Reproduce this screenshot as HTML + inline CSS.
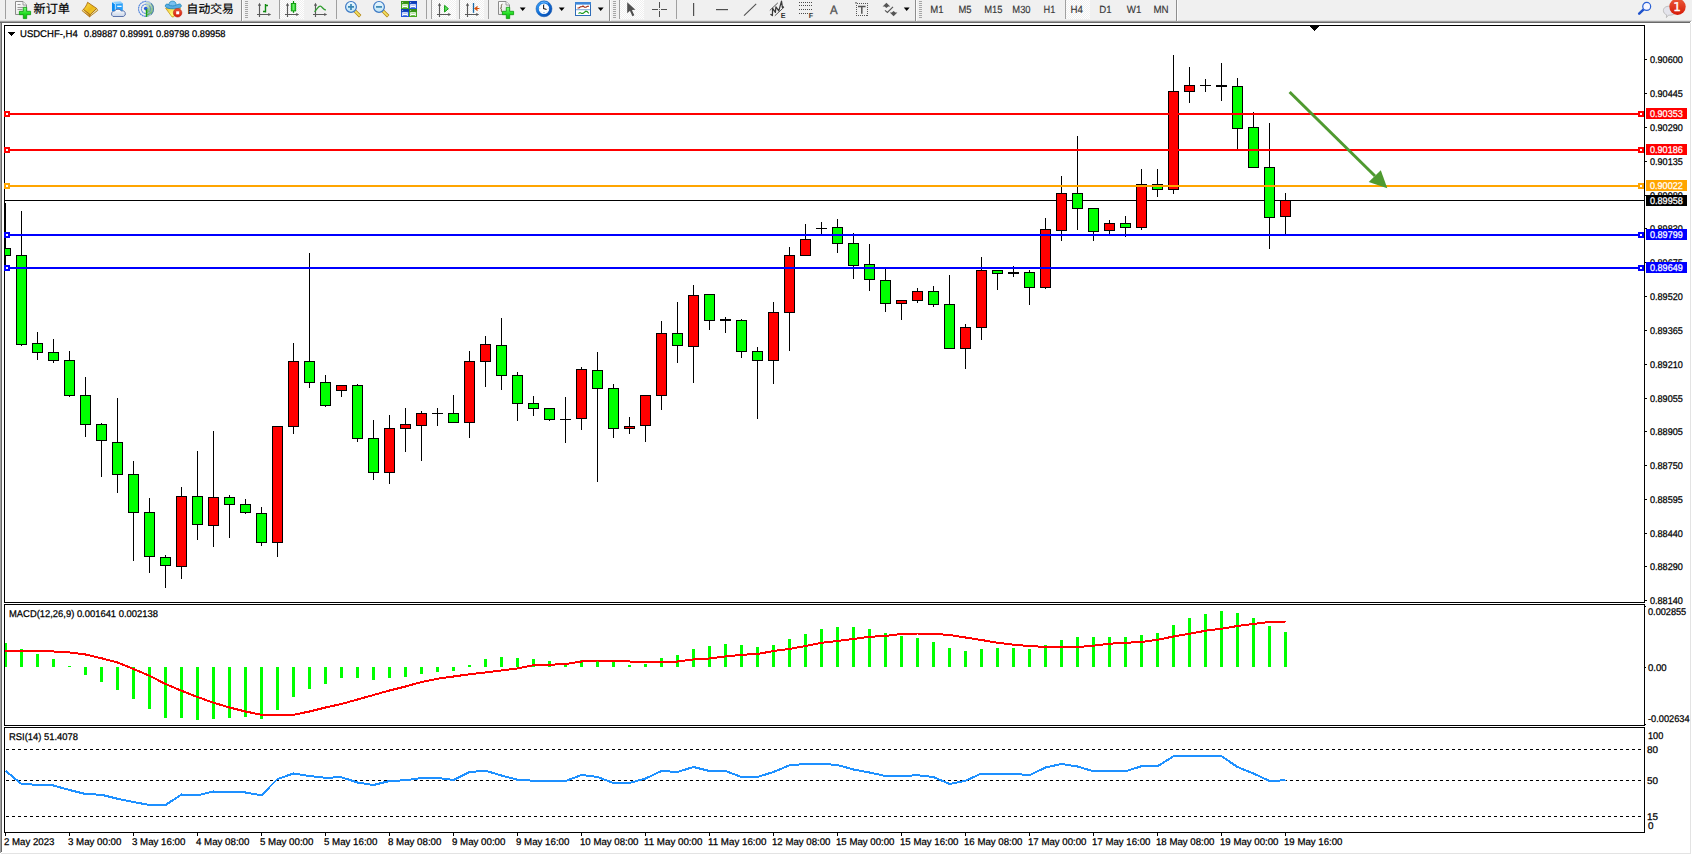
<!DOCTYPE html>
<html><head><meta charset="utf-8"><title>USDCHF-,H4</title>
<style>
html,body{margin:0;padding:0}
body{text-rendering:geometricPrecision;width:1692px;height:855px;position:relative;overflow:hidden;background:#fff;font-family:"Liberation Sans","Noto Sans CJK SC",sans-serif;font-size:9.5px;color:#000}
.t,.box span{-webkit-text-stroke:0.25px currentColor}
.t{position:absolute;white-space:nowrap;line-height:11px;height:11px;transform-origin:0 50%}
.pl{left:1650px}
.box{position:absolute;left:1646px;width:41px;height:11px}
.box span{position:absolute;left:3.9px;top:1px;line-height:11px;color:#fff;white-space:nowrap;transform-origin:0 50%}
#tb{position:absolute;left:0;top:0;width:1692px;height:21px;background:#f0f0f0}
#chart{position:absolute;left:0;top:0}
</style></head><body>
<div id="tb"></div>
<div style="position:absolute;left:0;top:20px;width:1692px;height:1px;background:#dedede"></div>
<div style="position:absolute;left:0;top:21px;width:1691px;height:1px;background:#a0a0a0"></div>
<div style="position:absolute;left:0;top:22px;width:1690px;height:1px;background:#696969"></div>
<div style="position:absolute;left:0;top:23px;width:1px;height:830px;background:#a0a0a0"></div>
<div style="position:absolute;left:1px;top:23px;width:1px;height:829px;background:#696969"></div>
<div style="position:absolute;left:1690px;top:23px;width:1px;height:831px;background:#e3e3e3"></div>
<div style="position:absolute;left:1px;top:853px;width:1690px;height:1px;background:#e3e3e3"></div>

<svg id="chart" width="1692" height="855" viewBox="0 0 1692 855" shape-rendering="crispEdges"><rect x="4" y="25" width="1641" height="1" fill="#000"/><rect x="4" y="25" width="1" height="578" fill="#000"/><rect x="4" y="602" width="1641" height="1" fill="#000"/><rect x="1644" y="25" width="1" height="578" fill="#000"/><rect x="4" y="604" width="1641" height="1" fill="#000"/><rect x="4" y="604" width="1" height="122" fill="#000"/><rect x="4" y="725" width="1641" height="1" fill="#000"/><rect x="1644" y="604" width="1" height="122" fill="#000"/><rect x="4" y="727" width="1641" height="1" fill="#000"/><rect x="4" y="727" width="1" height="106" fill="#000"/><rect x="4" y="832" width="1641" height="1" fill="#000"/><rect x="1644" y="727" width="1" height="106" fill="#000"/><rect x="5" y="200" width="1640" height="1" fill="#000"/><rect x="5" y="203" width="1" height="65" fill="#000"/><rect x="5" y="248" width="6" height="8" fill="#000"/><rect x="5" y="249" width="5" height="6" fill="#00ff00"/><rect x="21" y="211" width="1" height="135" fill="#000"/><rect x="16" y="255" width="11" height="90" fill="#000"/><rect x="17" y="256" width="9" height="88" fill="#00ff00"/><rect x="37" y="332" width="1" height="28" fill="#000"/><rect x="32" y="343" width="11" height="10" fill="#000"/><rect x="33" y="344" width="9" height="8" fill="#00ff00"/><rect x="53" y="339" width="1" height="24" fill="#000"/><rect x="48" y="352" width="11" height="9" fill="#000"/><rect x="49" y="353" width="9" height="7" fill="#00ff00"/><rect x="69" y="351" width="1" height="46" fill="#000"/><rect x="64" y="360" width="11" height="36" fill="#000"/><rect x="65" y="361" width="9" height="34" fill="#00ff00"/><rect x="85" y="377" width="1" height="60" fill="#000"/><rect x="80" y="395" width="11" height="30" fill="#000"/><rect x="81" y="396" width="9" height="28" fill="#00ff00"/><rect x="101" y="423" width="1" height="54" fill="#000"/><rect x="96" y="424" width="11" height="17" fill="#000"/><rect x="97" y="425" width="9" height="15" fill="#00ff00"/><rect x="117" y="398" width="1" height="95" fill="#000"/><rect x="112" y="442" width="11" height="33" fill="#000"/><rect x="113" y="443" width="9" height="31" fill="#00ff00"/><rect x="133" y="461" width="1" height="100" fill="#000"/><rect x="128" y="474" width="11" height="39" fill="#000"/><rect x="129" y="475" width="9" height="37" fill="#00ff00"/><rect x="149" y="498" width="1" height="75" fill="#000"/><rect x="144" y="512" width="11" height="45" fill="#000"/><rect x="145" y="513" width="9" height="43" fill="#00ff00"/><rect x="165" y="555" width="1" height="33" fill="#000"/><rect x="160" y="557" width="11" height="9" fill="#000"/><rect x="161" y="558" width="9" height="7" fill="#00ff00"/><rect x="181" y="487" width="1" height="92" fill="#000"/><rect x="176" y="496" width="11" height="71" fill="#000"/><rect x="177" y="497" width="9" height="69" fill="#ff0000"/><rect x="197" y="451" width="1" height="89" fill="#000"/><rect x="192" y="496" width="11" height="29" fill="#000"/><rect x="193" y="497" width="9" height="27" fill="#00ff00"/><rect x="213" y="431" width="1" height="116" fill="#000"/><rect x="208" y="497" width="11" height="29" fill="#000"/><rect x="209" y="498" width="9" height="27" fill="#ff0000"/><rect x="229" y="495" width="1" height="43" fill="#000"/><rect x="224" y="497" width="11" height="8" fill="#000"/><rect x="225" y="498" width="9" height="6" fill="#00ff00"/><rect x="245" y="499" width="1" height="15" fill="#000"/><rect x="240" y="504" width="11" height="9" fill="#000"/><rect x="241" y="505" width="9" height="7" fill="#00ff00"/><rect x="261" y="507" width="1" height="39" fill="#000"/><rect x="256" y="513" width="11" height="30" fill="#000"/><rect x="257" y="514" width="9" height="28" fill="#00ff00"/><rect x="277" y="426" width="1" height="131" fill="#000"/><rect x="272" y="426" width="11" height="117" fill="#000"/><rect x="273" y="427" width="9" height="115" fill="#ff0000"/><rect x="293" y="343" width="1" height="91" fill="#000"/><rect x="288" y="361" width="11" height="66" fill="#000"/><rect x="289" y="362" width="9" height="64" fill="#ff0000"/><rect x="309" y="253" width="1" height="135" fill="#000"/><rect x="304" y="361" width="11" height="22" fill="#000"/><rect x="305" y="362" width="9" height="20" fill="#00ff00"/><rect x="325" y="375" width="1" height="32" fill="#000"/><rect x="320" y="382" width="11" height="24" fill="#000"/><rect x="321" y="383" width="9" height="22" fill="#00ff00"/><rect x="341" y="385" width="1" height="12" fill="#000"/><rect x="336" y="385" width="11" height="6" fill="#000"/><rect x="337" y="386" width="9" height="4" fill="#ff0000"/><rect x="357" y="384" width="1" height="58" fill="#000"/><rect x="352" y="385" width="11" height="54" fill="#000"/><rect x="353" y="386" width="9" height="52" fill="#00ff00"/><rect x="373" y="420" width="1" height="60" fill="#000"/><rect x="368" y="438" width="11" height="35" fill="#000"/><rect x="369" y="439" width="9" height="33" fill="#00ff00"/><rect x="389" y="415" width="1" height="69" fill="#000"/><rect x="384" y="428" width="11" height="45" fill="#000"/><rect x="385" y="429" width="9" height="43" fill="#ff0000"/><rect x="405" y="408" width="1" height="44" fill="#000"/><rect x="400" y="424" width="11" height="5" fill="#000"/><rect x="401" y="425" width="9" height="3" fill="#ff0000"/><rect x="421" y="411" width="1" height="50" fill="#000"/><rect x="416" y="413" width="11" height="13" fill="#000"/><rect x="417" y="414" width="9" height="11" fill="#ff0000"/><rect x="437" y="408" width="1" height="18" fill="#000"/><rect x="432" y="413" width="11" height="1" fill="#000"/><rect x="453" y="395" width="1" height="28" fill="#000"/><rect x="448" y="413" width="11" height="10" fill="#000"/><rect x="449" y="414" width="9" height="8" fill="#00ff00"/><rect x="469" y="351" width="1" height="87" fill="#000"/><rect x="464" y="361" width="11" height="62" fill="#000"/><rect x="465" y="362" width="9" height="60" fill="#ff0000"/><rect x="485" y="336" width="1" height="51" fill="#000"/><rect x="480" y="344" width="11" height="18" fill="#000"/><rect x="481" y="345" width="9" height="16" fill="#ff0000"/><rect x="501" y="318" width="1" height="72" fill="#000"/><rect x="496" y="345" width="11" height="31" fill="#000"/><rect x="497" y="346" width="9" height="29" fill="#00ff00"/><rect x="517" y="372" width="1" height="49" fill="#000"/><rect x="512" y="375" width="11" height="29" fill="#000"/><rect x="513" y="376" width="9" height="27" fill="#00ff00"/><rect x="533" y="396" width="1" height="20" fill="#000"/><rect x="528" y="403" width="11" height="6" fill="#000"/><rect x="529" y="404" width="9" height="4" fill="#00ff00"/><rect x="549" y="408" width="1" height="13" fill="#000"/><rect x="544" y="408" width="11" height="12" fill="#000"/><rect x="545" y="409" width="9" height="10" fill="#00ff00"/><rect x="565" y="397" width="1" height="46" fill="#000"/><rect x="560" y="419" width="11" height="1" fill="#000"/><rect x="581" y="367" width="1" height="63" fill="#000"/><rect x="576" y="369" width="11" height="50" fill="#000"/><rect x="577" y="370" width="9" height="48" fill="#ff0000"/><rect x="597" y="352" width="1" height="130" fill="#000"/><rect x="592" y="370" width="11" height="19" fill="#000"/><rect x="593" y="371" width="9" height="17" fill="#00ff00"/><rect x="613" y="384" width="1" height="54" fill="#000"/><rect x="608" y="388" width="11" height="41" fill="#000"/><rect x="609" y="389" width="9" height="39" fill="#00ff00"/><rect x="629" y="417" width="1" height="17" fill="#000"/><rect x="624" y="426" width="11" height="3" fill="#000"/><rect x="625" y="427" width="9" height="1" fill="#ff0000"/><rect x="645" y="395" width="1" height="47" fill="#000"/><rect x="640" y="395" width="11" height="31" fill="#000"/><rect x="641" y="396" width="9" height="29" fill="#ff0000"/><rect x="661" y="321" width="1" height="89" fill="#000"/><rect x="656" y="333" width="11" height="63" fill="#000"/><rect x="657" y="334" width="9" height="61" fill="#ff0000"/><rect x="677" y="302" width="1" height="61" fill="#000"/><rect x="672" y="333" width="11" height="13" fill="#000"/><rect x="673" y="334" width="9" height="11" fill="#00ff00"/><rect x="693" y="285" width="1" height="98" fill="#000"/><rect x="688" y="295" width="11" height="52" fill="#000"/><rect x="689" y="296" width="9" height="50" fill="#ff0000"/><rect x="709" y="294" width="1" height="36" fill="#000"/><rect x="704" y="294" width="11" height="27" fill="#000"/><rect x="705" y="295" width="9" height="25" fill="#00ff00"/><rect x="725" y="317" width="1" height="16" fill="#000"/><rect x="720" y="319" width="11" height="2" fill="#000"/><rect x="741" y="319" width="1" height="39" fill="#000"/><rect x="736" y="320" width="11" height="32" fill="#000"/><rect x="737" y="321" width="9" height="30" fill="#00ff00"/><rect x="757" y="347" width="1" height="72" fill="#000"/><rect x="752" y="351" width="11" height="10" fill="#000"/><rect x="753" y="352" width="9" height="8" fill="#00ff00"/><rect x="773" y="302" width="1" height="82" fill="#000"/><rect x="768" y="312" width="11" height="49" fill="#000"/><rect x="769" y="313" width="9" height="47" fill="#ff0000"/><rect x="789" y="247" width="1" height="104" fill="#000"/><rect x="784" y="255" width="11" height="58" fill="#000"/><rect x="785" y="256" width="9" height="56" fill="#ff0000"/><rect x="805" y="224" width="1" height="32" fill="#000"/><rect x="800" y="239" width="11" height="17" fill="#000"/><rect x="801" y="240" width="9" height="15" fill="#ff0000"/><rect x="821" y="222" width="1" height="12" fill="#000"/><rect x="816" y="228" width="11" height="1" fill="#000"/><rect x="837" y="219" width="1" height="34" fill="#000"/><rect x="832" y="227" width="11" height="17" fill="#000"/><rect x="833" y="228" width="9" height="15" fill="#00ff00"/><rect x="853" y="233" width="1" height="46" fill="#000"/><rect x="848" y="243" width="11" height="23" fill="#000"/><rect x="849" y="244" width="9" height="21" fill="#00ff00"/><rect x="869" y="244" width="1" height="47" fill="#000"/><rect x="864" y="264" width="11" height="16" fill="#000"/><rect x="865" y="265" width="9" height="14" fill="#00ff00"/><rect x="885" y="269" width="1" height="43" fill="#000"/><rect x="880" y="280" width="11" height="24" fill="#000"/><rect x="881" y="281" width="9" height="22" fill="#00ff00"/><rect x="901" y="300" width="1" height="20" fill="#000"/><rect x="896" y="300" width="11" height="4" fill="#000"/><rect x="897" y="301" width="9" height="2" fill="#ff0000"/><rect x="917" y="288" width="1" height="15" fill="#000"/><rect x="912" y="291" width="11" height="10" fill="#000"/><rect x="913" y="292" width="9" height="8" fill="#ff0000"/><rect x="933" y="286" width="1" height="21" fill="#000"/><rect x="928" y="291" width="11" height="14" fill="#000"/><rect x="929" y="292" width="9" height="12" fill="#00ff00"/><rect x="949" y="275" width="1" height="74" fill="#000"/><rect x="944" y="304" width="11" height="45" fill="#000"/><rect x="945" y="305" width="9" height="43" fill="#00ff00"/><rect x="965" y="324" width="1" height="45" fill="#000"/><rect x="960" y="327" width="11" height="22" fill="#000"/><rect x="961" y="328" width="9" height="20" fill="#ff0000"/><rect x="981" y="257" width="1" height="83" fill="#000"/><rect x="976" y="270" width="11" height="58" fill="#000"/><rect x="977" y="271" width="9" height="56" fill="#ff0000"/><rect x="997" y="270" width="1" height="20" fill="#000"/><rect x="992" y="270" width="11" height="4" fill="#000"/><rect x="993" y="271" width="9" height="2" fill="#00ff00"/><rect x="1013" y="266" width="1" height="11" fill="#000"/><rect x="1008" y="272" width="11" height="2" fill="#000"/><rect x="1029" y="270" width="1" height="35" fill="#000"/><rect x="1024" y="272" width="11" height="16" fill="#000"/><rect x="1025" y="273" width="9" height="14" fill="#00ff00"/><rect x="1045" y="218" width="1" height="71" fill="#000"/><rect x="1040" y="229" width="11" height="59" fill="#000"/><rect x="1041" y="230" width="9" height="57" fill="#ff0000"/><rect x="1061" y="176" width="1" height="65" fill="#000"/><rect x="1056" y="193" width="11" height="38" fill="#000"/><rect x="1057" y="194" width="9" height="36" fill="#ff0000"/><rect x="1077" y="136" width="1" height="94" fill="#000"/><rect x="1072" y="193" width="11" height="16" fill="#000"/><rect x="1073" y="194" width="9" height="14" fill="#00ff00"/><rect x="1093" y="208" width="1" height="33" fill="#000"/><rect x="1088" y="208" width="11" height="24" fill="#000"/><rect x="1089" y="209" width="9" height="22" fill="#00ff00"/><rect x="1109" y="220" width="1" height="14" fill="#000"/><rect x="1104" y="223" width="11" height="8" fill="#000"/><rect x="1105" y="224" width="9" height="6" fill="#ff0000"/><rect x="1125" y="216" width="1" height="21" fill="#000"/><rect x="1120" y="223" width="11" height="5" fill="#000"/><rect x="1121" y="224" width="9" height="3" fill="#00ff00"/><rect x="1141" y="169" width="1" height="61" fill="#000"/><rect x="1136" y="184" width="11" height="44" fill="#000"/><rect x="1137" y="185" width="9" height="42" fill="#ff0000"/><rect x="1157" y="169" width="1" height="28" fill="#000"/><rect x="1152" y="184" width="11" height="6" fill="#000"/><rect x="1153" y="185" width="9" height="4" fill="#00ff00"/><rect x="1173" y="55" width="1" height="139" fill="#000"/><rect x="1168" y="91" width="11" height="99" fill="#000"/><rect x="1169" y="92" width="9" height="97" fill="#ff0000"/><rect x="1189" y="67" width="1" height="36" fill="#000"/><rect x="1184" y="85" width="11" height="7" fill="#000"/><rect x="1185" y="86" width="9" height="5" fill="#ff0000"/><rect x="1205" y="79" width="1" height="13" fill="#000"/><rect x="1200" y="85" width="11" height="1" fill="#000"/><rect x="1221" y="63" width="1" height="38" fill="#000"/><rect x="1216" y="85" width="11" height="2" fill="#000"/><rect x="1237" y="78" width="1" height="71" fill="#000"/><rect x="1232" y="86" width="11" height="43" fill="#000"/><rect x="1233" y="87" width="9" height="41" fill="#00ff00"/><rect x="1253" y="112" width="1" height="56" fill="#000"/><rect x="1248" y="127" width="11" height="41" fill="#000"/><rect x="1249" y="128" width="9" height="39" fill="#00ff00"/><rect x="1269" y="123" width="1" height="126" fill="#000"/><rect x="1264" y="167" width="11" height="51" fill="#000"/><rect x="1265" y="168" width="9" height="49" fill="#00ff00"/><rect x="1285" y="193" width="1" height="41" fill="#000"/><rect x="1280" y="200" width="11" height="17" fill="#000"/><rect x="1281" y="201" width="9" height="15" fill="#ff0000"/><rect x="5" y="113" width="1639" height="2" fill="#ff0000"/><rect x="4" y="111" width="6" height="6" fill="#ff0000"/><rect x="6" y="113" width="2" height="2" fill="#fff"/><rect x="1638" y="111" width="6" height="6" fill="#ff0000"/><rect x="1640" y="113" width="2" height="2" fill="#fff"/><rect x="5" y="149" width="1639" height="2" fill="#ff0000"/><rect x="4" y="147" width="6" height="6" fill="#ff0000"/><rect x="6" y="149" width="2" height="2" fill="#fff"/><rect x="1638" y="147" width="6" height="6" fill="#ff0000"/><rect x="1640" y="149" width="2" height="2" fill="#fff"/><rect x="5" y="185" width="1639" height="2" fill="#ffa500"/><rect x="4" y="183" width="6" height="6" fill="#ffa500"/><rect x="6" y="185" width="2" height="2" fill="#fff"/><rect x="1638" y="183" width="6" height="6" fill="#ffa500"/><rect x="1640" y="185" width="2" height="2" fill="#fff"/><rect x="5" y="234" width="1639" height="2" fill="#0000ff"/><rect x="4" y="232" width="6" height="6" fill="#0000ff"/><rect x="6" y="234" width="2" height="2" fill="#fff"/><rect x="1638" y="232" width="6" height="6" fill="#0000ff"/><rect x="1640" y="234" width="2" height="2" fill="#fff"/><rect x="5" y="267" width="1639" height="2" fill="#0000ff"/><rect x="4" y="265" width="6" height="6" fill="#0000ff"/><rect x="6" y="267" width="2" height="2" fill="#fff"/><rect x="1638" y="265" width="6" height="6" fill="#0000ff"/><rect x="1640" y="267" width="2" height="2" fill="#fff"/><g shape-rendering="geometricPrecision"><line x1="1289.6" y1="92" x2="1375" y2="176" stroke="#4f9a30" stroke-width="3"/><polygon points="1387.3,188.2 1380.8,170.3 1368.7,181.9" fill="#4f9a30"/></g><rect x="8" y="32" width="7" height="1" fill="#000"/><rect x="9" y="33" width="5" height="1" fill="#000"/><rect x="10" y="34" width="3" height="1" fill="#000"/><rect x="11" y="35" width="1" height="1" fill="#000"/><rect x="1310" y="26" width="9" height="1" fill="#000"/><rect x="1311" y="27" width="7" height="1" fill="#000"/><rect x="1312" y="28" width="5" height="1" fill="#000"/><rect x="1313" y="29" width="3" height="1" fill="#000"/><rect x="1314" y="30" width="1" height="1" fill="#000"/><rect x="5" y="643" width="2" height="24" fill="#00ff00"/><rect x="20" y="649" width="3" height="18" fill="#00ff00"/><rect x="36" y="654" width="3" height="13" fill="#00ff00"/><rect x="52" y="659" width="3" height="8" fill="#00ff00"/><rect x="68" y="666" width="3" height="1" fill="#00ff00"/><rect x="84" y="667" width="3" height="8" fill="#00ff00"/><rect x="100" y="667" width="3" height="15" fill="#00ff00"/><rect x="116" y="667" width="3" height="23" fill="#00ff00"/><rect x="132" y="667" width="3" height="32" fill="#00ff00"/><rect x="148" y="667" width="3" height="42" fill="#00ff00"/><rect x="164" y="667" width="3" height="51" fill="#00ff00"/><rect x="180" y="667" width="3" height="51" fill="#00ff00"/><rect x="196" y="667" width="3" height="53" fill="#00ff00"/><rect x="212" y="667" width="3" height="52" fill="#00ff00"/><rect x="228" y="667" width="3" height="51" fill="#00ff00"/><rect x="244" y="667" width="3" height="50" fill="#00ff00"/><rect x="260" y="667" width="3" height="52" fill="#00ff00"/><rect x="276" y="667" width="3" height="43" fill="#00ff00"/><rect x="292" y="667" width="3" height="30" fill="#00ff00"/><rect x="308" y="667" width="3" height="22" fill="#00ff00"/><rect x="324" y="667" width="3" height="17" fill="#00ff00"/><rect x="340" y="667" width="3" height="11" fill="#00ff00"/><rect x="356" y="667" width="3" height="11" fill="#00ff00"/><rect x="372" y="667" width="3" height="13" fill="#00ff00"/><rect x="388" y="667" width="3" height="11" fill="#00ff00"/><rect x="404" y="667" width="3" height="10" fill="#00ff00"/><rect x="420" y="667" width="3" height="7" fill="#00ff00"/><rect x="436" y="667" width="3" height="5" fill="#00ff00"/><rect x="452" y="667" width="3" height="4" fill="#00ff00"/><rect x="468" y="665" width="3" height="2" fill="#00ff00"/><rect x="484" y="659" width="3" height="8" fill="#00ff00"/><rect x="500" y="657" width="3" height="10" fill="#00ff00"/><rect x="516" y="658" width="3" height="9" fill="#00ff00"/><rect x="532" y="659" width="3" height="8" fill="#00ff00"/><rect x="548" y="661" width="3" height="6" fill="#00ff00"/><rect x="564" y="663" width="3" height="4" fill="#00ff00"/><rect x="580" y="660" width="3" height="7" fill="#00ff00"/><rect x="596" y="660" width="3" height="7" fill="#00ff00"/><rect x="612" y="662" width="3" height="5" fill="#00ff00"/><rect x="628" y="665" width="3" height="2" fill="#00ff00"/><rect x="644" y="664" width="3" height="3" fill="#00ff00"/><rect x="660" y="658" width="3" height="9" fill="#00ff00"/><rect x="676" y="655" width="3" height="12" fill="#00ff00"/><rect x="692" y="649" width="3" height="18" fill="#00ff00"/><rect x="708" y="646" width="3" height="21" fill="#00ff00"/><rect x="724" y="644" width="3" height="23" fill="#00ff00"/><rect x="740" y="645" width="3" height="22" fill="#00ff00"/><rect x="756" y="647" width="3" height="20" fill="#00ff00"/><rect x="772" y="645" width="3" height="22" fill="#00ff00"/><rect x="788" y="639" width="3" height="28" fill="#00ff00"/><rect x="804" y="634" width="3" height="33" fill="#00ff00"/><rect x="820" y="629" width="3" height="38" fill="#00ff00"/><rect x="836" y="627" width="3" height="40" fill="#00ff00"/><rect x="852" y="627" width="3" height="40" fill="#00ff00"/><rect x="868" y="629" width="3" height="38" fill="#00ff00"/><rect x="884" y="633" width="3" height="34" fill="#00ff00"/><rect x="900" y="636" width="3" height="31" fill="#00ff00"/><rect x="916" y="638" width="3" height="29" fill="#00ff00"/><rect x="932" y="642" width="3" height="25" fill="#00ff00"/><rect x="948" y="648" width="3" height="19" fill="#00ff00"/><rect x="964" y="651" width="3" height="16" fill="#00ff00"/><rect x="980" y="649" width="3" height="18" fill="#00ff00"/><rect x="996" y="648" width="3" height="19" fill="#00ff00"/><rect x="1012" y="648" width="3" height="19" fill="#00ff00"/><rect x="1028" y="649" width="3" height="18" fill="#00ff00"/><rect x="1044" y="645" width="3" height="22" fill="#00ff00"/><rect x="1060" y="640" width="3" height="27" fill="#00ff00"/><rect x="1076" y="637" width="3" height="30" fill="#00ff00"/><rect x="1092" y="637" width="3" height="30" fill="#00ff00"/><rect x="1108" y="637" width="3" height="30" fill="#00ff00"/><rect x="1124" y="637" width="3" height="30" fill="#00ff00"/><rect x="1140" y="635" width="3" height="32" fill="#00ff00"/><rect x="1156" y="633" width="3" height="34" fill="#00ff00"/><rect x="1172" y="625" width="3" height="42" fill="#00ff00"/><rect x="1188" y="618" width="3" height="49" fill="#00ff00"/><rect x="1204" y="614" width="3" height="53" fill="#00ff00"/><rect x="1220" y="611" width="3" height="56" fill="#00ff00"/><rect x="1236" y="613" width="3" height="54" fill="#00ff00"/><rect x="1252" y="618" width="3" height="49" fill="#00ff00"/><rect x="1268" y="626" width="3" height="41" fill="#00ff00"/><rect x="1284" y="632" width="3" height="35" fill="#00ff00"/><polyline points="5.5,651.25 21.5,650.75 37.5,651.0 53.5,651.5 69.5,652.5 85.5,654.5 101.5,658.25 117.5,662.5 133.5,669.0 149.5,675.75 165.5,684.0 181.5,690.75 197.5,697.0 213.5,702.75 229.5,707.5 245.5,711.5 261.5,714.75 277.5,715.0 293.5,714.75 309.5,711.5 325.5,707.5 341.5,704.0 357.5,699.5 373.5,695.0 389.5,690.5 405.5,686.5 421.5,682.0 437.5,678.75 453.5,676.5 469.5,674.25 485.5,672.5 501.5,670.5 517.5,668.5 533.5,665.25 549.5,664.75 565.5,664.0 581.5,661.5 597.5,660.5 613.5,660.75 629.5,661.5 645.5,661.5 661.5,661.5 677.5,661.5 693.5,659.5 709.5,658.5 725.5,656.5 741.5,654.75 757.5,654.0 773.5,651.0 789.5,649.0 805.5,646.0 821.5,642.75 837.5,641.0 853.5,639.0 869.5,636.75 885.5,636.0 901.5,634.0 917.5,633.5 933.5,633.75 949.5,635.0 965.5,637.5 981.5,640.0 997.5,642.75 1013.5,644.75 1029.5,646.0 1045.5,647.0 1061.5,647.5 1077.5,647.0 1093.5,645.75 1109.5,643.75 1125.5,642.75 1141.5,642.0 1157.5,639.75 1173.5,636.5 1189.5,633.75 1205.5,630.75 1221.5,628.75 1237.5,626.0 1253.5,624.0 1269.5,622.0 1285.5,621.5" fill="none" stroke="#ff0000" stroke-width="2" shape-rendering="crispEdges" stroke-linejoin="round"/><line x1="6" y1="749.5" x2="1644" y2="749.5" stroke="#000" stroke-width="1" stroke-dasharray="3 3"/><line x1="6" y1="780.5" x2="1644" y2="780.5" stroke="#000" stroke-width="1" stroke-dasharray="3 3"/><line x1="6" y1="816.5" x2="1644" y2="816.5" stroke="#000" stroke-width="1" stroke-dasharray="3 3"/><polyline points="5.5,770.75 21.5,784.0 37.5,784.75 53.5,785.5 69.5,790.0 85.5,794.0 101.5,794.75 117.5,798.75 133.5,802.0 149.5,805.0 165.5,805.0 181.5,794.5 197.5,795.25 213.5,791.5 229.5,791.75 245.5,792.5 261.5,795.25 277.5,779.0 293.5,773.5 309.5,776.0 325.5,777.75 341.5,777.25 357.5,782.5 373.5,785.0 389.5,781.0 405.5,780.25 421.5,778.0 437.5,778.0 453.5,780.0 469.5,772.0 485.5,770.75 501.5,775.5 517.5,779.75 533.5,780.75 549.5,781.0 565.5,781.0 581.5,775.0 597.5,777.0 613.5,783.0 629.5,783.0 645.5,778.5 661.5,771.0 677.5,772.0 693.5,767.0 709.5,771.0 725.5,771.0 741.5,777.0 757.5,777.0 773.5,772.0 789.5,765.25 805.5,764.0 821.5,763.75 837.5,765.0 853.5,769.5 869.5,772.5 885.5,776.0 901.5,776.0 917.5,775.25 933.5,777.0 949.5,784.0 965.5,780.75 981.5,773.5 997.5,773.5 1013.5,773.75 1029.5,775.25 1045.5,767.5 1061.5,764.0 1077.5,766.5 1093.5,771.25 1109.5,771.25 1125.5,771.25 1141.5,766.25 1157.5,766.25 1173.5,756.25 1189.5,756.25 1205.5,756.25 1221.5,756.25 1237.5,767.0 1253.5,773.5 1269.5,781.0 1285.5,780.25" fill="none" stroke="#1e90ff" stroke-width="2" shape-rendering="crispEdges" stroke-linejoin="round"/><rect x="1645" y="59" width="2" height="1" fill="#000"/><rect x="1645" y="93" width="2" height="1" fill="#000"/><rect x="1645" y="127" width="2" height="1" fill="#000"/><rect x="1645" y="161" width="2" height="1" fill="#000"/><rect x="1645" y="195" width="2" height="1" fill="#000"/><rect x="1645" y="228" width="2" height="1" fill="#000"/><rect x="1645" y="262" width="2" height="1" fill="#000"/><rect x="1645" y="296" width="2" height="1" fill="#000"/><rect x="1645" y="330" width="2" height="1" fill="#000"/><rect x="1645" y="364" width="2" height="1" fill="#000"/><rect x="1645" y="398" width="2" height="1" fill="#000"/><rect x="1645" y="431" width="2" height="1" fill="#000"/><rect x="1645" y="465" width="2" height="1" fill="#000"/><rect x="1645" y="499" width="2" height="1" fill="#000"/><rect x="1645" y="533" width="2" height="1" fill="#000"/><rect x="1645" y="566" width="2" height="1" fill="#000"/><rect x="1645" y="600" width="2" height="1" fill="#000"/><rect x="1645" y="606" width="1" height="1" fill="#000"/><rect x="1645" y="667" width="1" height="1" fill="#000"/><rect x="1645" y="724" width="1" height="1" fill="#000"/><rect x="5" y="833" width="1" height="3" fill="#000"/><rect x="69" y="833" width="1" height="3" fill="#000"/><rect x="133" y="833" width="1" height="3" fill="#000"/><rect x="197" y="833" width="1" height="3" fill="#000"/><rect x="261" y="833" width="1" height="3" fill="#000"/><rect x="325" y="833" width="1" height="3" fill="#000"/><rect x="389" y="833" width="1" height="3" fill="#000"/><rect x="453" y="833" width="1" height="3" fill="#000"/><rect x="517" y="833" width="1" height="3" fill="#000"/><rect x="581" y="833" width="1" height="3" fill="#000"/><rect x="645" y="833" width="1" height="3" fill="#000"/><rect x="709" y="833" width="1" height="3" fill="#000"/><rect x="773" y="833" width="1" height="3" fill="#000"/><rect x="837" y="833" width="1" height="3" fill="#000"/><rect x="901" y="833" width="1" height="3" fill="#000"/><rect x="965" y="833" width="1" height="3" fill="#000"/><rect x="1029" y="833" width="1" height="3" fill="#000"/><rect x="1093" y="833" width="1" height="3" fill="#000"/><rect x="1157" y="833" width="1" height="3" fill="#000"/><rect x="1221" y="833" width="1" height="3" fill="#000"/><rect x="1285" y="833" width="1" height="3" fill="#000"/></svg>
<div class="t " style="left:20.2px;top:29px;font-size:9.75px;transform:scaleX(0.9773);">USDCHF-,H4</div>
<div class="t " style="left:83.7px;top:29px;font-size:9.75px;transform:scaleX(0.9491);">0.89887 0.89991 0.89798 0.89958</div>
<div class="t " style="left:8.5px;top:609px;font-size:9.75px;transform:scaleX(0.9639);">MACD(12,26,9) 0.001641 0.002138</div>
<div class="t " style="left:8.5px;top:732px;font-size:9.75px;transform:scaleX(0.9631);">RSI(14) 51.4078</div>
<div class="t " style="left:1649.9px;top:55px;font-size:9.75px;transform:scaleX(0.9308);">0.90600</div>
<div class="t " style="left:1649.9px;top:89px;font-size:9.75px;transform:scaleX(0.9308);">0.90445</div>
<div class="t " style="left:1649.9px;top:123px;font-size:9.75px;transform:scaleX(0.9308);">0.90290</div>
<div class="t " style="left:1649.9px;top:157px;font-size:9.75px;transform:scaleX(0.9308);">0.90135</div>
<div class="t " style="left:1649.9px;top:191px;font-size:9.75px;transform:scaleX(0.9308);">0.89980</div>
<div class="t " style="left:1649.9px;top:224px;font-size:9.75px;transform:scaleX(0.9308);">0.89830</div>
<div class="t " style="left:1649.9px;top:258px;font-size:9.75px;transform:scaleX(0.9308);">0.89675</div>
<div class="t " style="left:1649.9px;top:292px;font-size:9.75px;transform:scaleX(0.9308);">0.89520</div>
<div class="t " style="left:1649.9px;top:326px;font-size:9.75px;transform:scaleX(0.9308);">0.89365</div>
<div class="t " style="left:1649.9px;top:360px;font-size:9.75px;transform:scaleX(0.9308);">0.89210</div>
<div class="t " style="left:1649.9px;top:394px;font-size:9.75px;transform:scaleX(0.9308);">0.89055</div>
<div class="t " style="left:1649.9px;top:427px;font-size:9.75px;transform:scaleX(0.9308);">0.88905</div>
<div class="t " style="left:1649.9px;top:461px;font-size:9.75px;transform:scaleX(0.9308);">0.88750</div>
<div class="t " style="left:1649.9px;top:495px;font-size:9.75px;transform:scaleX(0.9308);">0.88595</div>
<div class="t " style="left:1649.9px;top:529px;font-size:9.75px;transform:scaleX(0.9308);">0.88440</div>
<div class="t " style="left:1649.9px;top:562px;font-size:9.75px;transform:scaleX(0.9308);">0.88290</div>
<div class="t " style="left:1649.9px;top:596px;font-size:9.75px;transform:scaleX(0.9308);">0.88140</div>
<div class="t " style="left:1647.7px;top:607px;font-size:9.75px;transform:scaleX(0.9395);">0.002855</div>
<div class="t " style="left:1647.7px;top:663px;font-size:9.75px;transform:scaleX(0.9803);">0.00</div>
<div class="t " style="left:1647.5px;top:714px;font-size:9.75px;transform:scaleX(0.9451);">-0.002634</div>
<div class="t " style="left:1648.0px;top:730.5px;font-size:9.75px;transform:scaleX(0.9345);">100</div>
<div class="t " style="left:1646.9px;top:745px;font-size:9.75px;transform:scaleX(1.0144);">80</div>
<div class="t " style="left:1646.9px;top:776px;font-size:9.75px;transform:scaleX(1.0144);">50</div>
<div class="t " style="left:1646.9px;top:812px;font-size:9.75px;transform:scaleX(1.0144);">15</div>
<div class="t " style="left:1648.0px;top:821px;font-size:9.75px;transform:scaleX(1.0144);">0</div>
<div class="t " style="left:3.9px;top:837px;font-size:9.75px;transform:scaleX(0.9893);">2 May 2023</div>
<div class="t " style="left:67.9px;top:837px;font-size:9.75px;transform:scaleX(0.9953);">3 May 00:00</div>
<div class="t " style="left:131.9px;top:837px;font-size:9.75px;transform:scaleX(0.9953);">3 May 16:00</div>
<div class="t " style="left:195.9px;top:837px;font-size:9.75px;transform:scaleX(0.9953);">4 May 08:00</div>
<div class="t " style="left:259.9px;top:837px;font-size:9.75px;transform:scaleX(0.9953);">5 May 00:00</div>
<div class="t " style="left:323.9px;top:837px;font-size:9.75px;transform:scaleX(0.9953);">5 May 16:00</div>
<div class="t " style="left:387.9px;top:837px;font-size:9.75px;transform:scaleX(0.9953);">8 May 08:00</div>
<div class="t " style="left:451.9px;top:837px;font-size:9.75px;transform:scaleX(0.9953);">9 May 00:00</div>
<div class="t " style="left:515.9px;top:837px;font-size:9.75px;transform:scaleX(0.9953);">9 May 16:00</div>
<div class="t " style="left:579.9px;top:837px;font-size:9.75px;transform:scaleX(0.9886);">10 May 08:00</div>
<div class="t " style="left:643.9px;top:837px;font-size:9.75px;transform:scaleX(1.0008);">11 May 00:00</div>
<div class="t " style="left:707.9px;top:837px;font-size:9.75px;transform:scaleX(1.0008);">11 May 16:00</div>
<div class="t " style="left:771.9px;top:837px;font-size:9.75px;transform:scaleX(0.9886);">12 May 08:00</div>
<div class="t " style="left:835.9px;top:837px;font-size:9.75px;transform:scaleX(0.9886);">15 May 00:00</div>
<div class="t " style="left:899.9px;top:837px;font-size:9.75px;transform:scaleX(0.9886);">15 May 16:00</div>
<div class="t " style="left:963.9px;top:837px;font-size:9.75px;transform:scaleX(0.9886);">16 May 08:00</div>
<div class="t " style="left:1027.9px;top:837px;font-size:9.75px;transform:scaleX(0.9886);">17 May 00:00</div>
<div class="t " style="left:1091.9px;top:837px;font-size:9.75px;transform:scaleX(0.9886);">17 May 16:00</div>
<div class="t " style="left:1155.9px;top:837px;font-size:9.75px;transform:scaleX(0.9886);">18 May 08:00</div>
<div class="t " style="left:1219.9px;top:837px;font-size:9.75px;transform:scaleX(0.9886);">19 May 00:00</div>
<div class="t " style="left:1283.9px;top:837px;font-size:9.75px;transform:scaleX(0.9886);">19 May 16:00</div>
<div class="box" style="top:108px;background:#ff0000"><span style="font-size:9.75px;transform:scaleX(0.9308)">0.90353</span></div>
<div class="box" style="top:144px;background:#ff0000"><span style="font-size:9.75px;transform:scaleX(0.9308)">0.90186</span></div>
<div class="box" style="top:180px;background:#ffa500"><span style="font-size:9.75px;transform:scaleX(0.9308)">0.90022</span></div>
<div class="box" style="top:195px;background:#000"><span style="font-size:9.75px;transform:scaleX(0.9308)">0.89958</span></div>
<div class="box" style="top:229px;background:#0000ff"><span style="font-size:9.75px;transform:scaleX(0.9308)">0.89799</span></div>
<div class="box" style="top:262px;background:#0000ff"><span style="font-size:9.75px;transform:scaleX(0.9308)">0.89649</span></div>
<svg id="tbsvg" width="1692" height="21" viewBox="0 0 1692 21" style="position:absolute;left:0;top:0"><defs><pattern id="chk" width="2" height="2" patternUnits="userSpaceOnUse"><rect width="2" height="2" fill="#fff"/><rect width="1" height="1" fill="#efefef"/><rect x="1" y="1" width="1" height="1" fill="#efefef"/></pattern><linearGradient id="gplus" x1="0" y1="0" x2="0" y2="1"><stop offset="0" stop-color="#7cff7c"/><stop offset=".55" stop-color="#22dd22"/><stop offset="1" stop-color="#0cb40c"/></linearGradient><linearGradient id="gclk" x1="0" y1="0" x2="1" y2="1"><stop offset="0" stop-color="#3aa0f6"/><stop offset=".5" stop-color="#0f6cd4"/><stop offset="1" stop-color="#0a4cae"/></linearGradient><linearGradient id="gdoc" x1="0" y1="0" x2="1" y2="1"><stop offset="0" stop-color="#ffffff"/><stop offset="1" stop-color="#dcdcdc"/></linearGradient><linearGradient id="ggold" x1="0" y1="0" x2="1" y2="1"><stop offset="0" stop-color="#f8dc60"/><stop offset=".6" stop-color="#e0a820"/><stop offset="1" stop-color="#b87c10"/></linearGradient><linearGradient id="gblue" x1="0" y1="0" x2="0" y2="1"><stop offset="0" stop-color="#38a8f8"/><stop offset="1" stop-color="#0868d0"/></linearGradient><linearGradient id="gred" x1="0" y1="0" x2="0" y2="1"><stop offset="0" stop-color="#ea5a3a"/><stop offset="1" stop-color="#d61a08"/></linearGradient><linearGradient id="gcloud" x1="0" y1="0" x2="0" y2="1"><stop offset="0" stop-color="#ffffff"/><stop offset="1" stop-color="#c8d4e8"/></linearGradient><linearGradient id="glens" x1="0" y1="0" x2="0" y2="1"><stop offset="0" stop-color="#eaf8ff"/><stop offset="1" stop-color="#bfe4f4"/></linearGradient><linearGradient id="ggrn" x1="0" y1="0" x2="1" y2="0"><stop offset="0" stop-color="#10c010"/><stop offset=".5" stop-color="#70f070"/><stop offset="1" stop-color="#10c010"/></linearGradient><g id="axes" fill="none" stroke="#5a5a5a" stroke-width="1.15"><path d="M2.5,4V17M0,14.5H13"/><path d="M0.9,5.8L2.5,2.8 4.1,5.8ZM11.2,12.9L14.2,14.5 11.2,16.1Z" fill="#5a5a5a" stroke="none"/></g><path id="dd" d="M0.3,0H6.1L3.2,3.5Z" fill="#000"/><g id="grip" fill="#a6a6a6"><rect y="1" width="3" height="1"/><rect y="3" width="3" height="1"/><rect y="5" width="3" height="1"/><rect y="7" width="3" height="1"/><rect y="9" width="3" height="1"/><rect y="11" width="3" height="1"/><rect y="13" width="3" height="1"/><rect y="15" width="3" height="1"/><rect y="17" width="3" height="1"/></g></defs><rect x="5" y="0" width="1" height="19" fill="#a0a0a0" shape-rendering="crispEdges"/><g transform="translate(15,1)"><path d="M0.5,0.5H8L11.5,4V13.5H0.5Z" fill="url(#gdoc)" stroke="#8c8c8c"/><path d="M8,0.5V4H11.5" fill="#f4f4f4" stroke="#8c8c8c" stroke-width=".8"/><path d="M2.5,3.5h3M2.5,6.5h6M2.5,8.5h5" stroke="#9a9a9a" fill="none"/></g><path transform="translate(25,13)" d="M-1.7,-5.6H1.7V-1.7H5.6V1.7H1.7V5.6H-1.7V1.7H-5.6V-1.7H-1.7Z" fill="url(#gplus)" stroke="#0a9a0a" stroke-width=".8"/><text x="33.5" y="12.6" font-size="12.2" fill="#000" stroke="#000" stroke-width=".18">新订单</text><defs><linearGradient id="gcov" x1="0" y1="0" x2="1" y2="1"><stop offset="0" stop-color="#ffe050"/><stop offset=".55" stop-color="#eab818"/><stop offset="1" stop-color="#f6d850"/></linearGradient><linearGradient id="gspine" x1="0" y1="0" x2=".5" y2="1"><stop offset="0" stop-color="#fff0a0"/><stop offset="1" stop-color="#c88a14"/></linearGradient></defs><path d="M90.2,14.6L96.6,8.4 97.8,10.4 89.5,16.8Z" fill="#e6d8a0" stroke="#a87414" stroke-width=".8"/><path d="M83.4,9.4L90.2,14.6 89.5,16.8 82.1,10.7Z" fill="url(#gspine)" stroke="#a86c10" stroke-width=".8" stroke-linejoin="round"/><path d="M87.6,2.3L96.6,8.4 90.2,14.6 83.4,9.4C85.2,7.4 86.8,5 87.6,2.3Z" fill="url(#gcov)" stroke="#a86c10" stroke-width=".9" stroke-linejoin="round"/><path d="M112,1.9L120.5,1.3 122.8,3.2 115.3,4Z" fill="#8cd0ff"/><path d="M112,1.9L115.3,4V11H112Z" fill="#0a8cf2"/><path d="M115.3,4L122.8,3.2V11H115.3Z" fill="#28a0fa"/><path d="M112.2,2L115.3,4V10" stroke="#e4f4ff" stroke-width=".7" fill="none"/><rect x="117.2" y="5.7" width="4.4" height="1.3" fill="#f0faff"/><path d="M113,16.5A3,3 0 0 1 114.6,10.9A4.2,4.2 0 0 1 121.4,10.9A2.9,2.9 0 0 1 123.4,16.5Z" fill="url(#gcloud)" stroke="#4e68a4" stroke-width=".9"/><path d="M146,8.9L146.00,16.80A7.9,7.9 0 0 0 150.19,15.60Z" fill="#4fae4a" opacity="0.9"/><path d="M146,8.9L149.95,15.74A7.9,7.9 0 0 0 152.98,12.61Z" fill="#4fae4a" opacity="0.75"/><path d="M146,8.9L152.84,12.85A7.9,7.9 0 0 0 153.90,8.62Z" fill="#4fae4a" opacity="0.6"/><path d="M146,8.9L153.90,8.90A7.9,7.9 0 0 0 152.70,4.71Z" fill="#4fae4a" opacity="0.48"/><path d="M146,8.9L152.84,4.95A7.9,7.9 0 0 0 149.71,1.92Z" fill="#4fae4a" opacity="0.36"/><path d="M146,8.9L149.95,2.06A7.9,7.9 0 0 0 145.72,1.00Z" fill="#4fae4a" opacity="0.26"/><g fill="none" stroke-width="1.1"><circle cx="146" cy="8.9" r="7.5" stroke="#a9c0ea"/><circle cx="146" cy="8.9" r="4.6" stroke="#9ab6e6"/><path d="M146,1.4A7.5,7.5 0 0 0 146,16.4" stroke="#5f8fdc" stroke-dasharray="1.6 .8"/><path d="M146,4.3A4.6,4.6 0 0 0 146,13.5" stroke="#6d98de" stroke-dasharray="1.6 .8"/><path d="M151,3.3A7.5,7.5 0 0 1 151,14.5" stroke="#4f86a0"/><path d="M149.2,5.6A4.6,4.6 0 0 1 149.2,12.2" stroke="#6a9cae"/></g><circle cx="145.7" cy="8.6" r="1.8" fill="#2a5fd8"/><path d="M146.5,9.2V16.9" stroke="#18a018" stroke-width="1.4"/><defs><linearGradient id="gfun" x1="0" y1="0" x2="1" y2="1"><stop offset="0" stop-color="#f0c838"/><stop offset=".6" stop-color="#ffff80"/><stop offset="1" stop-color="#e8b828"/></linearGradient></defs><path d="M165.6,8.2H180.6L173.6,16.9H172Z" fill="url(#gfun)" stroke="#c89818" stroke-width=".8"/><path d="M165.3,6C165.3,4.2 167,3.6 168.6,4.6C171,6 175.6,6 178,4.4C179.6,3.4 181.3,4.2 181.3,5.8C181.3,8 177.4,8.8 173.3,8.8S165.3,8 165.3,6Z" fill="#58ace4" stroke="#1c86b8" stroke-width=".8"/><path d="M168.8,5C168.8,2.4 170.6,1.1 172.6,1.1S176.2,2.4 176.2,5C174.6,6.2 170.4,6.2 168.8,5Z" fill="#78c0f0" stroke="#1c86b8" stroke-width=".7"/><circle cx="177.6" cy="12.8" r="4.3" fill="url(#gred)" stroke="#b81808" stroke-width=".5"/><rect x="176.2" y="11.3" width="3" height="3" fill="#fff"/><text x="186.6" y="12.6" font-size="11.8" fill="#000" stroke="#000" stroke-width=".18">自动交易</text><rect x="241" y="0" width="1" height="21" fill="#8e8e8e" shape-rendering="crispEdges"/><rect x="242" y="0" width="1" height="21" fill="#fbfbfb" shape-rendering="crispEdges"/><use href="#grip" x="245"/><use href="#axes" x="257"/><path d="M265.5,4V12.5M265.5,5.5H268M263,11.5H265.5" stroke="#0f8a0f" stroke-width="1.4" fill="none"/><rect x="279" y="0" width="1" height="19" fill="#a0a0a0" shape-rendering="crispEdges"/><rect x="280" y="0" width="24" height="19" fill="url(#chk)" shape-rendering="crispEdges"/><use href="#axes" x="285"/><path d="M293.5,1V12.8" stroke="#0a8a0a" stroke-width="1.2"/><rect x="291.3" y="3.5" width="4.4" height="7.4" fill="url(#ggrn)" stroke="#0a9a0a" stroke-width=".9"/><use href="#axes" x="313"/><path d="M314.5,11.8C317,9 318.5,6 320.3,6.2S323,9.6 325.8,10" stroke="#2e9e2e" stroke-width="1.3" fill="none"/><rect x="336" y="0" width="1" height="19" fill="#a0a0a0" shape-rendering="crispEdges"/><path d="M354.6,10.6L360.2,16.2" stroke="#b08414" stroke-width="3.4"/><path d="M354.6,10.6L359.8,15.8" stroke="#f4e060" stroke-width="1.9"/><circle cx="351" cy="6.9" r="5.4" fill="url(#glens)" stroke="#3c78c4" stroke-width="1.2"/><path d="M348,6.9H354M351,3.9V9.9" stroke="#3a86b4" stroke-width="1.7"/><path d="M382.6,10.6L388.2,16.2" stroke="#b08414" stroke-width="3.4"/><path d="M382.6,10.6L387.8,15.8" stroke="#f4e060" stroke-width="1.9"/><circle cx="379" cy="6.9" r="5.4" fill="url(#glens)" stroke="#3c78c4" stroke-width="1.2"/><path d="M376,6.9H382" stroke="#3a86b4" stroke-width="1.7"/><rect x="401" y="1" width="8" height="8" fill="#45a81e"/><rect x="401" y="1" width="8" height="2.6" fill="#348f14"/><path d="M402.2,4.3H407.8V8.1H406.9V7.3H403.1V8.1H402.2Z" fill="#fff"/><rect x="403.2" y="5.2" width="3.6" height=".8" fill="#a4d88c"/><rect x="402.2" y="2.1" width=".9" height=".9" fill="#e8f0ff" opacity=".85"/><rect x="409" y="1" width="8" height="8" fill="#2458dc"/><rect x="409" y="1" width="8" height="2.6" fill="#0e3cb4"/><path d="M410.2,4.3H415.8V8.1H414.9V7.3H411.1V8.1H410.2Z" fill="#fff"/><rect x="411.2" y="5.2" width="3.6" height=".8" fill="#9cb0f0"/><rect x="410.2" y="2.1" width=".9" height=".9" fill="#e8f0ff" opacity=".85"/><rect x="401" y="9" width="8" height="8" fill="#2458dc"/><rect x="401" y="9" width="8" height="2.6" fill="#0e3cb4"/><path d="M402.2,12.3H407.8V16.1H406.9V15.3H403.1V16.1H402.2Z" fill="#fff"/><rect x="403.2" y="13.2" width="3.6" height=".8" fill="#9cb0f0"/><rect x="402.2" y="10.1" width=".9" height=".9" fill="#e8f0ff" opacity=".85"/><rect x="409" y="9" width="8" height="8" fill="#45a81e"/><rect x="409" y="9" width="8" height="2.6" fill="#348f14"/><path d="M410.2,12.3H415.8V16.1H414.9V15.3H411.1V16.1H410.2Z" fill="#fff"/><rect x="411.2" y="13.2" width="3.6" height=".8" fill="#a4d88c"/><rect x="410.2" y="10.1" width=".9" height=".9" fill="#e8f0ff" opacity=".85"/><rect x="426" y="0" width="1" height="19" fill="#a0a0a0" shape-rendering="crispEdges"/><rect x="431" y="0" width="1" height="19" fill="#a0a0a0" shape-rendering="crispEdges"/><rect x="432" y="0" width="24" height="19" fill="url(#chk)" shape-rendering="crispEdges"/><use href="#axes" x="437"/><path d="M444.6,5.4L448.4,8.7 444.6,12Z" fill="#5ce05c" stroke="#0f9a0f" stroke-width="1"/><rect x="459" y="0" width="1" height="19" fill="#a0a0a0" shape-rendering="crispEdges"/><rect x="460" y="0" width="24" height="19" fill="url(#chk)" shape-rendering="crispEdges"/><use href="#axes" x="465"/><path d="M473.5,3V12.8" stroke="#1a6aa8" stroke-width="1.3"/><path d="M475,8.5H479.4M477.6,6.6L475,8.5 477.6,10.4" stroke="#d8500a" stroke-width="1.2" fill="none"/><rect x="488" y="0" width="1" height="19" fill="#a0a0a0" shape-rendering="crispEdges"/><g transform="translate(498,1)"><path d="M0.5,0.5H8L11.5,4V13.5H0.5Z" fill="url(#gdoc)" stroke="#8c8c8c"/><path d="M8,0.5V4H11.5" fill="#f4f4f4" stroke="#8c8c8c" stroke-width=".8"/><path d="M4.4,3.2C3,3.2 3.4,5.4 3.4,6.2C3.4,7 2.6,7.2 2.6,7.2C2.6,7.2 3.4,7.4 3.4,8.2C3.4,9 3,11 4.4,11" stroke="#5a5030" fill="none" stroke-width=".9"/></g><path transform="translate(508,13)" d="M-1.7,-5.6H1.7V-1.7H5.6V1.7H1.7V5.6H-1.7V1.7H-5.6V-1.7H-1.7Z" fill="url(#gplus)" stroke="#0a9a0a" stroke-width=".8"/><use href="#dd" x="519.5" y="7.6"/><circle cx="544" cy="8.8" r="6.6" fill="#fff" stroke="url(#gclk)" stroke-width="2.8"/><g fill="#9ab"><circle cx="544" cy="4.6" r=".5"/><circle cx="548.2" cy="8.8" r=".5"/><circle cx="539.8" cy="8.8" r=".5"/><circle cx="541" cy="5.8" r=".4"/><circle cx="547" cy="5.8" r=".4"/><circle cx="541" cy="11.8" r=".4"/><circle cx="547" cy="11.8" r=".4"/></g><circle cx="544" cy="8.8" r="8" fill="none" stroke="#0a4ea8" stroke-width=".5"/><path d="M541.2,2.6A6.8,6.8 0 0 1 548,3.2" stroke="#6cb8ff" stroke-width="1" fill="none"/><path d="M543.6,4.8V8.6L546.6,9.6" stroke="#222" stroke-width="1.1" fill="none"/><circle cx="544" cy="12.6" r=".6" fill="#4a90e0"/><use href="#dd" x="558.5" y="7.6"/><rect x="575.5" y="2.5" width="15" height="13" fill="#fff" stroke="#2e6cb8"/><rect x="575" y="2" width="16" height="2.6" fill="#3e86d8"/><rect x="576" y="9.2" width="14" height="1" fill="#7aa6d8"/><path d="M577.5,8L579,8 580.5,6.8 582,6.8 583,6 584.5,7.2 586,7.2 587.5,6.2 589,6.2" stroke="#a02810" stroke-width="1.1" fill="none"/><path d="M578.5,13.4L580,12.6 581.5,13.4 583,13.4 585.8,11.2 587.2,11.6 588.8,13.4" stroke="#1e9a1e" stroke-width="1.1" fill="none"/><use href="#dd" x="597.5" y="7.6"/><rect x="609" y="0" width="1" height="21" fill="#8e8e8e" shape-rendering="crispEdges"/><rect x="610" y="0" width="1" height="21" fill="#fbfbfb" shape-rendering="crispEdges"/><use href="#grip" x="613"/><rect x="619" y="0" width="1" height="19" fill="#a0a0a0" shape-rendering="crispEdges"/><rect x="620" y="0" width="24" height="19" fill="url(#chk)" shape-rendering="crispEdges"/><path d="M627.2,2.2V13.2L629.9,10.8 632.4,16.2 634.3,15.3 631.9,10.1 635.4,9.8Z" fill="#505050"/><path d="M652,9.5H658M661,9.5H667M659.5,2V8M659.5,11V17" stroke="#505050" stroke-width="1" fill="none" shape-rendering="crispEdges"/><rect x="659" y="9" width="1" height="1" fill="#808080"/><rect x="676" y="0" width="1" height="19" fill="#a0a0a0" shape-rendering="crispEdges"/><rect x="693" y="3" width="1.2" height="13" fill="#505050"/><rect x="716" y="9" width="12" height="1.2" fill="#505050"/><path d="M744,15.7L756.2,3.9" stroke="#505050" stroke-width="1.1"/><g stroke="#444" fill="none"><path d="M769.8,10.4L777.8,2.9M774.8,15.8L784,7.2" stroke-width=".9"/><path d="M770.4,14.2L772.4,15.6 772.6,8.4 775.4,12.4 775.9,6.8 778.8,10.8 781.5,1.2 782.4,7.4 784,6.8" stroke-width="1.25" stroke="#3a3a3a" stroke-linejoin="round"/></g><text x="780.7" y="17.9" font-size="7.2" font-weight="bold" fill="#333">E</text><g fill="#4a4a4a" shape-rendering="crispEdges"><rect x="799" y="2" width="1" height="1"/><rect x="801" y="2" width="1" height="1"/><rect x="803" y="2" width="1" height="1"/><rect x="805" y="2" width="1" height="1"/><rect x="807" y="2" width="1" height="1"/><rect x="809" y="2" width="1" height="1"/><rect x="811" y="2" width="1" height="1"/><rect x="799" y="5" width="1" height="1"/><rect x="801" y="5" width="1" height="1"/><rect x="803" y="5" width="1" height="1"/><rect x="805" y="5" width="1" height="1"/><rect x="807" y="5" width="1" height="1"/><rect x="809" y="5" width="1" height="1"/><rect x="811" y="5" width="1" height="1"/><rect x="799" y="9" width="1" height="1"/><rect x="801" y="9" width="1" height="1"/><rect x="803" y="9" width="1" height="1"/><rect x="805" y="9" width="1" height="1"/><rect x="807" y="9" width="1" height="1"/><rect x="809" y="9" width="1" height="1"/><rect x="811" y="9" width="1" height="1"/><rect x="799" y="13" width="1" height="1"/><rect x="801" y="13" width="1" height="1"/><rect x="803" y="13" width="1" height="1"/><rect x="805" y="13" width="1" height="1"/><rect x="807" y="13" width="1" height="1"/></g><text x="808.7" y="17.9" font-size="7.2" font-weight="bold" fill="#333">F</text><text x="829.9" y="14.1" font-size="12.2" fill="#555" stroke="#555" stroke-width=".35" textLength="7.6" lengthAdjust="spacingAndGlyphs">A</text><rect x="856.5" y="3.5" width="11" height="12" fill="none" stroke="#555" stroke-width="1" stroke-dasharray="1 1" shape-rendering="crispEdges"/><path d="M858,6.6H865.6M861.8,6.6V13.8" stroke="#555" stroke-width="1.5" fill="none"/><rect x="855" y="2.4" width="2" height="1" fill="#555"/><path d="M886.4,2.8L890.2,6.4H888.2L886.4,8 884.6,6.4H882.6Z" fill="#555"/><path d="M893.6,16.2L897.4,12.6H895.4L893.6,11 891.8,12.6H889.8Z" fill="#555"/><path d="M885,10.4L887.4,12.4 893,6.8" stroke="#555" stroke-width="1.2" fill="none"/><use href="#dd" x="903.5" y="7.6"/><rect x="915" y="0" width="1" height="21" fill="#8e8e8e" shape-rendering="crispEdges"/><rect x="916" y="0" width="1" height="21" fill="#fbfbfb" shape-rendering="crispEdges"/><use href="#grip" x="919"/><rect x="1065" y="0" width="1" height="19" fill="#a0a0a0" shape-rendering="crispEdges"/><rect x="1066" y="0" width="24" height="19" fill="url(#chk)" shape-rendering="crispEdges"/><text x="930.3000000000001" y="12.9" font-size="10.4" fill="#383838" stroke="#383838" stroke-width=".15" textLength="13.3" lengthAdjust="spacingAndGlyphs">M1</text><text x="958.4" y="12.9" font-size="10.4" fill="#383838" stroke="#383838" stroke-width=".15" textLength="13.1" lengthAdjust="spacingAndGlyphs">M5</text><text x="984.2" y="12.9" font-size="10.4" fill="#383838" stroke="#383838" stroke-width=".15" textLength="18.3" lengthAdjust="spacingAndGlyphs">M15</text><text x="1012.3000000000001" y="12.9" font-size="10.4" fill="#383838" stroke="#383838" stroke-width=".15" textLength="18.3" lengthAdjust="spacingAndGlyphs">M30</text><text x="1043.5" y="12.9" font-size="10.4" fill="#383838" stroke="#383838" stroke-width=".15" textLength="11.8" lengthAdjust="spacingAndGlyphs">H1</text><text x="1070.5" y="12.9" font-size="10.4" fill="#383838" stroke="#383838" stroke-width=".15" textLength="12.4" lengthAdjust="spacingAndGlyphs">H4</text><text x="1099.1999999999998" y="12.9" font-size="10.4" fill="#383838" stroke="#383838" stroke-width=".15" textLength="12.4" lengthAdjust="spacingAndGlyphs">D1</text><text x="1126.8" y="12.9" font-size="10.4" fill="#383838" stroke="#383838" stroke-width=".15" textLength="14.6" lengthAdjust="spacingAndGlyphs">W1</text><text x="1153.3999999999999" y="12.9" font-size="10.4" fill="#383838" stroke="#383838" stroke-width=".15" textLength="15.2" lengthAdjust="spacingAndGlyphs">MN</text><rect x="1176" y="0" width="1" height="21" fill="#8e8e8e" shape-rendering="crispEdges"/><rect x="1177" y="0" width="1" height="21" fill="#fbfbfb" shape-rendering="crispEdges"/><path d="M1643.4,9.6L1639.2,13.6" stroke="#1f52cc" stroke-width="2.6" stroke-linecap="round"/><circle cx="1646.7" cy="6.4" r="3.95" fill="#f6f6ff" stroke="#2a60d4" stroke-width="1.25"/><path d="M1663.4,10.4C1663.4,7.6 1666,6.2 1669.4,6.2S1676,7.6 1676,10.6S1673,15.2 1669.6,15.2L1668.4,15.2 1666.4,17.6 1666.6,14.8C1664.6,14 1663.4,12.6 1663.4,10.4Z" fill="#e4e4ec" stroke="#b4b4b4" stroke-width=".8"/><circle cx="1677.5" cy="6.8" r="8.2" fill="url(#gred)"/><text x="1673.2" y="10.9" font-size="12" fill="#fff" stroke="#fff" stroke-width=".4" font-family="'DejaVu Sans',sans-serif">1</text></svg>
</body></html>
